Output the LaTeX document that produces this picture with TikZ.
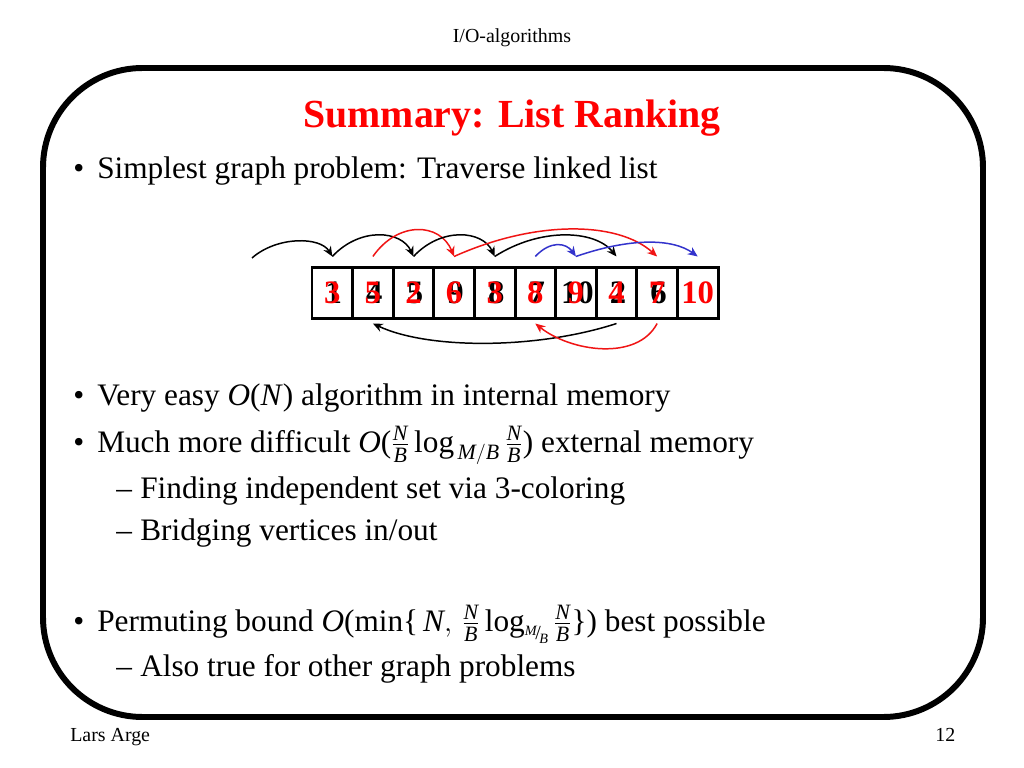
\documentclass[tikz,border=0pt]{standalone}
\usepackage{amsmath}
\usepackage{fontspec}
\setmainfont{Liberation Serif}
\usetikzlibrary{arrows.meta,calc}
\definecolor{slidered}{RGB}{255,0,0}
\definecolor{arrowred}{RGB}{240,20,20}
\definecolor{arrowblue}{RGB}{51,51,204}
\newcommand\iN{\textit{N}}
\newcommand\iB{\textit{B}}
\newcommand\iM{\textit{M}}
\newcommand\iO{\textit{O}}
\newcommand\fNB{\frac{\iN}{\iB}}
\newcommand\rlog{\textrm{log}}
\newcommand\slMB{\mbox{\fontsize{10}{10}\selectfont\raisebox{2.5pt}{\itshape M}\kern-0.8pt\raisebox{-0.5pt}{\fontsize{14}{14}\selectfont/}\kern-1.2pt\raisebox{-3pt}{\itshape B}}}
\tikzset{
  bodytext/.style={anchor=base west, inner sep=0pt, font=\fontsize{22}{26}\selectfont},
  bulletmark/.style={anchor=base west, inner sep=0pt, font=\fontsize{22}{26}\selectfont},
  smalltext/.style={inner sep=0pt, font=\fontsize{14}{16}\selectfont},
  cell/.style={draw, line width=2.1pt, minimum width=28.55pt, minimum height=35.2pt, inner sep=0pt},
  blackdigit/.style={inner sep=0pt, text=black, font=\fontsize{23}{25}\selectfont\bfseries},
  reddigit/.style={inner sep=0pt, text=slidered, font=\fontsize{23}{25}\selectfont\bfseries},
  conn/.style={line width=1.05pt, -{Stealth[length=7pt,width=6pt]}},
  connblack/.style={conn, draw=black},
  connred/.style={conn, draw=arrowred},
  connblue/.style={conn, draw=arrowblue}
}
\begin{document}
\begin{tikzpicture}[x=0.703125pt,y=-0.703125pt]
\useasboundingbox (0,0) rectangle (1024,768);
\fill[white] (0,0) rectangle (1024,768);

% header / footer
\node[smalltext, anchor=base] (header) at (512,43) {I/O-algorithms};
\node[smalltext, anchor=base west] (author) at (70,741) {Lars Arge};
\node[smalltext, anchor=base west] (pagenum) at (935,741) {12};

% frame
\draw[line width=4.2pt, rounded corners=70pt] (43,68) rectangle (983,717);

% title
\node[anchor=base, inner sep=0pt, text=slidered, font=\fontsize{28}{32}\selectfont\bfseries] (title) at (512,128) {Summary: List Ranking};

% bullets
\node[bulletmark] (b1) at (73,179) {\textbullet};
\node[bodytext] (l1) at (97,179) {Simplest graph problem: Traverse linked list};
\node[bulletmark] (b2) at (73,405) {\textbullet};
\node[bodytext] (l2) at (97,405) {Very easy \textit{O}(\textit{N}) algorithm in internal memory};
\node[bulletmark] (b3) at (73,452) {\textbullet};
\node[bodytext] (l3) at (97,452) {Much more difficult $\iO\text{(}\fNB\,\rlog_{\,\iM/\iB}\,\fNB\text{)}$ external memory};
\node[bulletmark] (d1) at (116,498) {\textendash};
\node[bodytext] (l4) at (140,498) {Finding independent set via 3-coloring};
\node[bulletmark] (d2) at (116,540) {\textendash};
\node[bodytext] (l5) at (140,540) {Bridging vertices in/out};
\node[bulletmark] (b4) at (73,631) {\textbullet};
\node[bodytext] (l6) at (97,631) {Permuting bound $\iO\text{(min\{}\,\iN,\,\fNB\,\rlog_{\slMB}\,\fNB\text{\})}$ best possible};
\node[bulletmark] (d3) at (116,676) {\textendash};
\node[bodytext] (l7) at (140,676) {Also true for other graph problems};

% list cells
\foreach \i in {1,...,10} {
  \node[cell] (c\i) at ({312+40.6*(\i-0.5)},293) {};
  \coordinate (t\i) at ($(c\i.north)+(0,-10)$);
  \coordinate (u\i) at ($(c\i.south)+(0,4)$);
}
\coordinate (t0) at (252,258);

% digits: black underneath, red on top
\foreach \i/\d in {1/1,2/4,3/5,4/9,5/8,6/7,7/10,8/2,9/6} {
  \node[blackdigit] (k\i) at ($(c\i.center)+(1.5,0)$) {\d};
}
\foreach \i/\d in {1/3,2/5,3/2,4/6,5/3,6/8,7/9,8/4,9/7,10/10} {
  \node[reddigit] (r\i) at (c\i.center) {\d};
}

% top connectors
\draw[connblack] (t0) .. controls +(25,-22) and +(-12,-20) .. (t1);
\draw[connblack] (t1) .. controls +(28,-30) and +(-12,-26) .. (t3);
\draw[connred]   (t2) .. controls +(25,-36) and +(-14,-34) .. (t4);
\draw[connblack] (t3) .. controls +(28,-30) and +(-12,-26) .. (t5);
\draw[connred]   (t4) .. controls +(80,-36) and +(-40,-36) .. (t9);
\draw[connblack] (t5) .. controls +(45,-29) and +(-22,-27) .. (t8);
\draw[connblue]  (t6) .. controls +(15,-16) and +(-10,-14) .. (t7);
\draw[connblue]  (t7) .. controls +(55,-19) and +(-25,-18) .. (t10);

% bottom connectors
\draw[connblack] (u8) .. controls +(-80,26) and +(55,26) .. (u2);
\draw[connred]   (u9) .. controls +(-20,38) and +(35,28) .. (u6);
\end{tikzpicture}
\end{document}
